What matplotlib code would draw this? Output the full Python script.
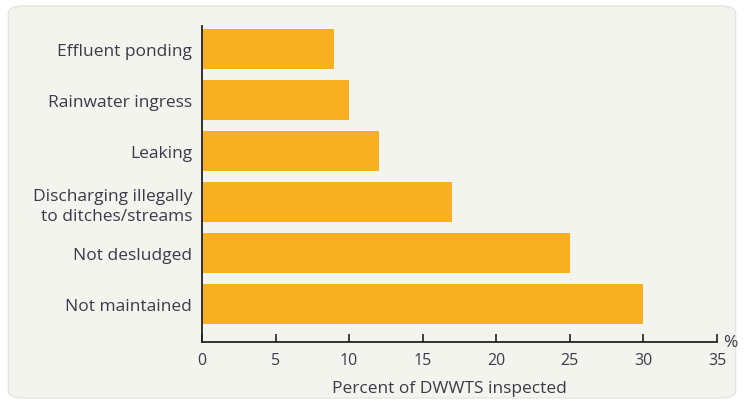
import matplotlib.pyplot as plt
from matplotlib.patches import FancyBboxPatch

# Data (bottom to top)
categories = ['Not maintained', 'Not desludged', 'Discharging illegally\nto ditches/streams',
              'Leaking', 'Rainwater ingress', 'Effluent ponding']
percent = [30, 25, 17, 12, 10, 9]
ticks = [0, 5, 10, 15, 20, 25, 30, 35]

bar_color = '#F8AF22'
text_color = '#3b3a48'
panel_color = '#F4F4EF'

plt.rcParams['font.family'] = ['Open Sans', 'DejaVu Sans']

fig = plt.figure(figsize=(7.44, 4.06), dpi=100)
fig.patch.set_facecolor('white')

# rounded background panel, behind the axes
panel = FancyBboxPatch((0.011, 0.017), 0.978, 0.966, boxstyle='round,pad=0,rounding_size=0.02',
                       transform=fig.transFigure, facecolor=panel_color, edgecolor='#e2e2dc',
                       linewidth=0.8, zorder=-5)
fig.add_artist(panel)

ax = fig.add_axes([0.2715, 0.1552, 0.6922, 0.7783])
ax.set_zorder(2)
ax.set_facecolor('none')

ax.barh(range(len(categories)), percent, height=0.78, color=bar_color, zorder=2)

ax.set_xlim(0, 35)
ax.set_ylim(-0.745, 5.45)
ax.set_xticks(ticks)
ax.set_yticks(range(len(categories)))
ax.set_yticklabels(categories, fontsize=12.5, color=text_color, linespacing=1.3)
ax.tick_params(axis='y', length=0, pad=7)
ax.tick_params(axis='x', direction='in', length=6, width=1.2, labelsize=11.5,
               labelcolor=text_color, pad=7, color='#222222')

for side in ['top', 'right']:
    ax.spines[side].set_visible(False)
for side in ['left', 'bottom']:
    ax.spines[side].set_linewidth(1.3)
    ax.spines[side].set_color('#222222')

ax.set_xlabel('Percent of DWWTS inspected', fontsize=12.5, color=text_color, labelpad=9)
ax.xaxis.label.set_x(0.48)
ax.text(1.012, 0.0, '%', transform=ax.transAxes, fontsize=12.5, color=text_color,
        ha='left', va='center')

fig.savefig('out.png', dpi=100)
